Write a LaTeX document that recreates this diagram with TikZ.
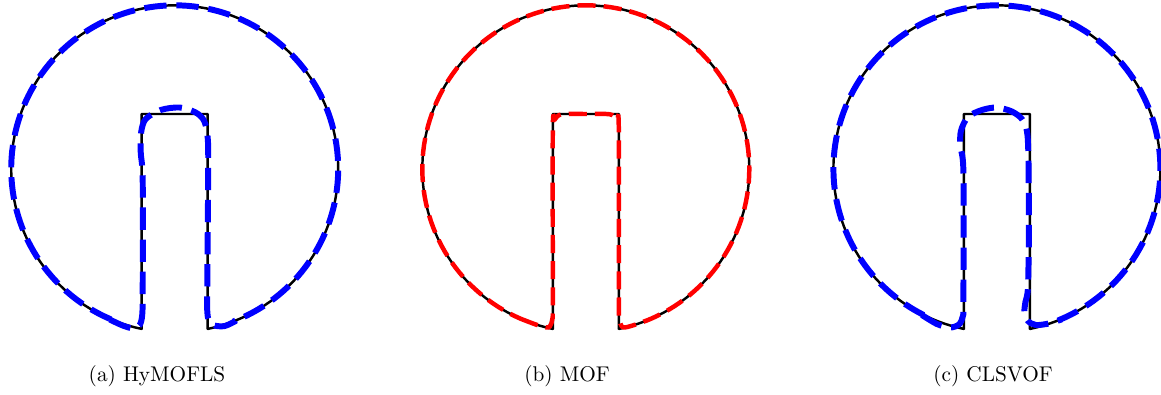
\documentclass[tikz,border=0pt]{standalone}
\begin{document}
\begin{tikzpicture}[x=0.47pt,y=-0.47pt,
  blk/.style={black,line width=1.15pt,line join=round},
  bluedash/.style={blue,line width=2.8pt,dash pattern=on 10.5pt off 4.6pt},
  reddash/.style={red,line width=2.1pt,dash pattern=on 8.5pt off 3.8pt},
  captext/.style={font=\normalsize,inner sep=0pt,anchor=base}]
\useasboundingbox (0,0) rectangle (1161,394);
% exact shape (black)
\foreach \cx in {174.7,585.8,996.9}{
  \begin{scope}[shift={(\cx,0)}]
    \draw[blk] (-33,328.9) -- (-33,114) -- (33,114) -- (33,328.9)
      -- plot[domain=78.35:-258.35,samples=140] ({163.5*cos(\x)},{168.8+163.5*sin(\x)}) -- cycle;
  \end{scope}
}
% (a) HyMOFLS
\begin{scope}[shift={(174.7,0)}]
  \draw[bluedash] plot[smooth,tension=0.5] coordinates {(-65,319.5) (-52,325.5) (-41,328.5) (-35,325) (-32.5,315) (-32,290) (-32,180) (-34,152) (-33.5,132) (-29,119) (-14,110) (5,107.5) (21,112.5) (29.5,121) (33,138) (33.5,170) (32.5,295) (32.5,310) (34,320) (40,325.5) (50,326) (60,321.5)}
    -- plot[domain=68.4:-246.5,samples=140] ({163.5*cos(\x)},{168.8+163.5*sin(\x)}) -- cycle;
\end{scope}
% (b) MOF
\begin{scope}[shift={(585.8,0)}]
  \draw[reddash] plot[smooth,tension=0.5] coordinates {(-65,318.8) (-50,324.5) (-40,327.3) (-36,326.5) (-33.5,319) (-33,300) (-33,130) (-31,119.5) (-24,114.3) (0,114) (24,114.3) (31,119.5) (33,130) (33,300) (33.5,319) (36,326.5) (40,327.3) (50,324.5) (60,320.8)}
    -- plot[domain=68.4:-246.5,samples=140] ({163.5*cos(\x)},{168.8+163.5*sin(\x)}) -- cycle;
\end{scope}
% (c) CLSVOF
\begin{scope}[shift={(996.9,0)}]
  \draw[bluedash] plot[smooth,tension=0.5] coordinates {(-75,315) (-60,324) (-47,327.5) (-38,324.5) (-34,316) (-33.5,300) (-33.5,172) (-36.5,147) (-36,131) (-29,117) (-15,110) (0,107.5) (15,111.5) (25,119) (30,131) (31.5,157) (32,230) (31,288) (28.5,302) (27.5,313) (31,321) (39,325) (52,323.5) (63,320)}
    -- plot[domain=67.33:-242.7,samples=140] ({163.5*cos(\x)},{168.8+163.5*sin(\x)}) -- cycle;
\end{scope}
% captions
\node[captext] (capa) at (157,381) {(a) HyMOFLS};
\node[captext] (capb) at (567,381) {(b) MOF};
\node[captext] (capc) at (993,381) {(c) CLSVOF};
\end{tikzpicture}
\end{document}
